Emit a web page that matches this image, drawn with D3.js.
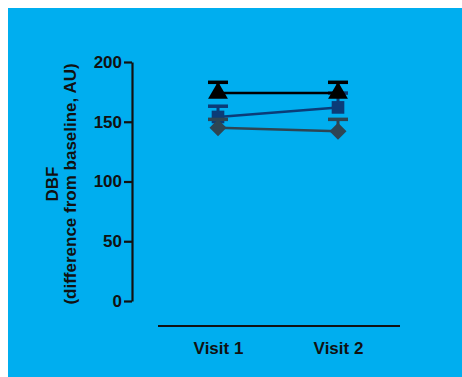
<!DOCTYPE html>
<html><head><meta charset="utf-8">
<script src="https://cdn.jsdelivr.net/npm/d3@7"></script>
<style>html,body{margin:0;padding:0;background:#fff;}svg{display:block;}</style>
</head><body>
<script>
const categories = ["Visit 1", "Visit 2"];
const yTicks = [0, 50, 100, 150, 200];
const diamondMean = [145, 142];
const diamondErr = [152, 152];
const squareMean = [154, 162];
const squareErr = [163, 174];
const triangleMean = [174, 174];
const triangleErr = [183, 183];

const W = 462, H = 377;
const FONT = "Liberation Sans, Arial, sans-serif";
const svg = d3.select("body").append("svg").attr("width", W).attr("height", H);
svg.append("rect").attr("x", 8).attr("y", 8).attr("width", W - 8).attr("height", H - 8).attr("fill", "#00AEEF");

const y = d3.scaleLinear().domain([0, 200]).range([301, 62]);
const x = d3.scalePoint().domain(categories).range([218, 338]);

// Y axis
const yAxis = svg.append("g").attr("transform", "translate(132,0)")
  .call(d3.axisLeft(y).tickValues(yTicks).tickSize(8).tickSizeOuter(0).tickPadding(2));
yAxis.select(".domain").attr("stroke", "#111").attr("stroke-width", 2.2);
yAxis.selectAll(".tick line").attr("stroke", "#111").attr("stroke-width", 2.2);
yAxis.selectAll(".tick text").attr("fill", "#111").attr("font-family", FONT)
  .attr("font-weight", "bold").attr("font-size", "17px");

// X axis
const xAxis = svg.append("g").attr("transform", "translate(0,326)")
  .call(d3.axisBottom(x).tickSize(0).tickPadding(16));
xAxis.select(".domain").attr("d", "M158,0H400").attr("stroke", "#111").attr("stroke-width", 2.2);
xAxis.selectAll(".tick text").attr("fill", "#111").attr("font-family", FONT)
  .attr("font-weight", "bold").attr("font-size", "17px");

// Y title
const yt = svg.append("text").attr("transform", "translate(58,184) rotate(-90)")
  .attr("text-anchor", "middle").attr("fill", "#111")
  .attr("font-family", FONT).attr("font-weight", "bold").attr("font-size", "17px");
yt.append("tspan").attr("x", 0).attr("dy", 0).text("DBF");
yt.append("tspan").attr("x", 0).attr("dy", 18).text("(difference from baseline, AU)");

const diamondSym = { draw(ctx, size) { const w = 8.5, h = 8.5; ctx.moveTo(0, -h); ctx.lineTo(w, 0); ctx.lineTo(0, h); ctx.lineTo(-w, 0); ctx.closePath(); } };

const series = [
  {mean: squareMean, err: squareErr, color: "#0B3C78", sym: d3.symbolSquare, size: 160},
  {mean: diamondMean, err: diamondErr, color: "#2E4553", sym: diamondSym, size: 1},
  {mean: triangleMean, err: triangleErr, color: "#000000", sym: d3.symbolTriangle, size: 170}
];

series.forEach(s => {
  const g = svg.append("g");
  g.append("path").datum(categories)
    .attr("d", d3.line().x(c => x(c)).y((c, i) => y(s.mean[i])))
    .attr("fill", "none").attr("stroke", s.color).attr("stroke-width", 2.5);
  categories.forEach((c, i) => {
    g.append("line").attr("x1", x(c)).attr("x2", x(c)).attr("y1", y(s.mean[i])).attr("y2", y(s.err[i]))
      .attr("stroke", s.color).attr("stroke-width", 3);
    g.append("line").attr("x1", x(c) - 10).attr("x2", x(c) + 10).attr("y1", y(s.err[i])).attr("y2", y(s.err[i]))
      .attr("stroke", s.color).attr("stroke-width", 3.5);
  });
  g.selectAll("path.m").data(categories).enter().append("path").attr("class", "m")
    .attr("transform", (c, i) => `translate(${x(c)},${y(s.mean[i])})`)
    .attr("d", d3.symbol().type(s.sym).size(s.size))
    .attr("fill", s.color);
});
</script>
</body></html>
